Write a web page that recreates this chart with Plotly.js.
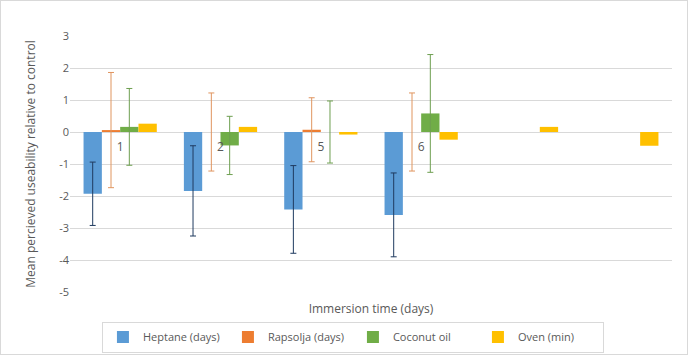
<!DOCTYPE html>
<html><head><meta charset="utf-8">
<script src="https://cdn.plot.ly/plotly-3.0.1.min.js"></script>
<style>
html,body{margin:0;padding:0;background:#fff;}
#wrap{position:relative;width:688px;height:355px;}
#chart{position:absolute;left:0;top:0;width:688px;height:355px;}
#frame{position:absolute;left:0;top:0;width:688px;height:355px;box-sizing:border-box;border:1px solid #d9d9d9;pointer-events:none;}
</style></head>
<body><div id="wrap"><div id="chart"></div><div id="frame"></div></div>
<script>
const categoryLabels = ["1", "2", "5", "6", "", ""];
const seriesNames = ["Heptane (days)", "Rapsolja (days)", "Coconut oil", "Oven (min)"];
const heptane = [-1.93, -1.84, -2.42, -2.59, null, null];
const heptaneErr = [0.99, 1.41, 1.37, 1.31, null, null];
const rapsolja = [0.06, 0.0, 0.07, 0.0, null, null];
const rapsoljaErr = [1.8, 1.22, 1.0, 1.22, null, null];
const coconut = [0.16, -0.42, 0.0, 0.58, null, null];
const coconutErr = [1.2, 0.91, 0.97, 1.84, null, null];
const oven = [0.26, 0.16, -0.08, -0.24, 0.16, -0.43];
const yTicks = [-5, -4, -3, -2, -1, 0, 1, 2, 3];

const xIdx = categoryLabels.map((_, i) => i);
const gray = '#595959';
const font = 'Open Sans, Liberation Sans, sans-serif';

function bar(name, y, color, err, errColor) {
  const t = {type: 'bar', name: name, x: xIdx, y: y, marker: {color: color}, xaxis: 'x', yaxis: 'y'};
  if (err) t.error_y = {type: 'data', array: err, visible: true, color: errColor, thickness: 1, width: 3};
  return t;
}
const data = [
  bar(seriesNames[0], heptane, '#5B9BD5', heptaneErr, '#1F3A5F'),
  bar(seriesNames[1], rapsolja, '#ED7D31', rapsoljaErr, '#E0955F'),
  bar(seriesNames[2], coconut, '#70AD47', coconutErr, '#6E9F50'),
  bar(seriesNames[3], oven, '#FFC000', null, null),
  {type: 'scatter', mode: 'markers', x: xIdx, y: xIdx.map(() => 0), xaxis: 'x2', yaxis: 'y',
   marker: {opacity: 0, size: 1}, showlegend: false, hoverinfo: 'skip'}
];
const layout = {
  width: 688, height: 355,
  margin: {l: 70, r: 16, t: 36, b: 63, autoexpand: false},
  paper_bgcolor: '#fff', plot_bgcolor: '#fff',
  font: {family: font, color: gray, size: 12},
  barmode: 'group', bargap: 0.27, bargroupgap: 0,
  showlegend: true,
  legend: {orientation: 'h', x: 0.47, xanchor: 'center', y: -0.176, yanchor: 'middle',
    bordercolor: '#d9d9d9', borderwidth: 1, font: {size: 11, color: gray, family: font},
    entrywidth: 80, entrywidthmode: 'pixels', traceorder: 'normal', itemwidth: 30},
  xaxis: {range: [-0.5, 5.5], showticklabels: false, showgrid: false, zeroline: false, showline: false,
    ticks: '', fixedrange: true,
    title: {text: 'Immersion time (days)', font: {size: 12, color: gray}, standoff: 12}},
  xaxis2: {overlaying: 'x', range: [-0.5, 5.5], anchor: 'free', position: 0.625,
    tickmode: 'array', tickvals: xIdx, ticktext: categoryLabels, showgrid: false, zeroline: false,
    showline: false, ticks: 'outside', ticklen: 4, tickcolor: 'rgba(0,0,0,0)',
    tickfont: {size: 12, color: gray}, fixedrange: true},
  yaxis: {range: [-5, 3], tickmode: 'array', tickvals: yTicks, ticktext: yTicks.map(String),
    showgrid: true, gridcolor: '#d9d9d9', gridwidth: 1, zeroline: true, zerolinecolor: '#d9d9d9', zerolinewidth: 1,
    showline: false, ticks: '', tickfont: {size: 11, color: gray}, fixedrange: true,
    title: {text: 'Mean percieved useability relative to control', font: {size: 12, color: gray}, standoff: 20}}
};
Plotly.newPlot('chart', data, layout, {displayModeBar: false, staticPlot: true});
</script></body></html>
